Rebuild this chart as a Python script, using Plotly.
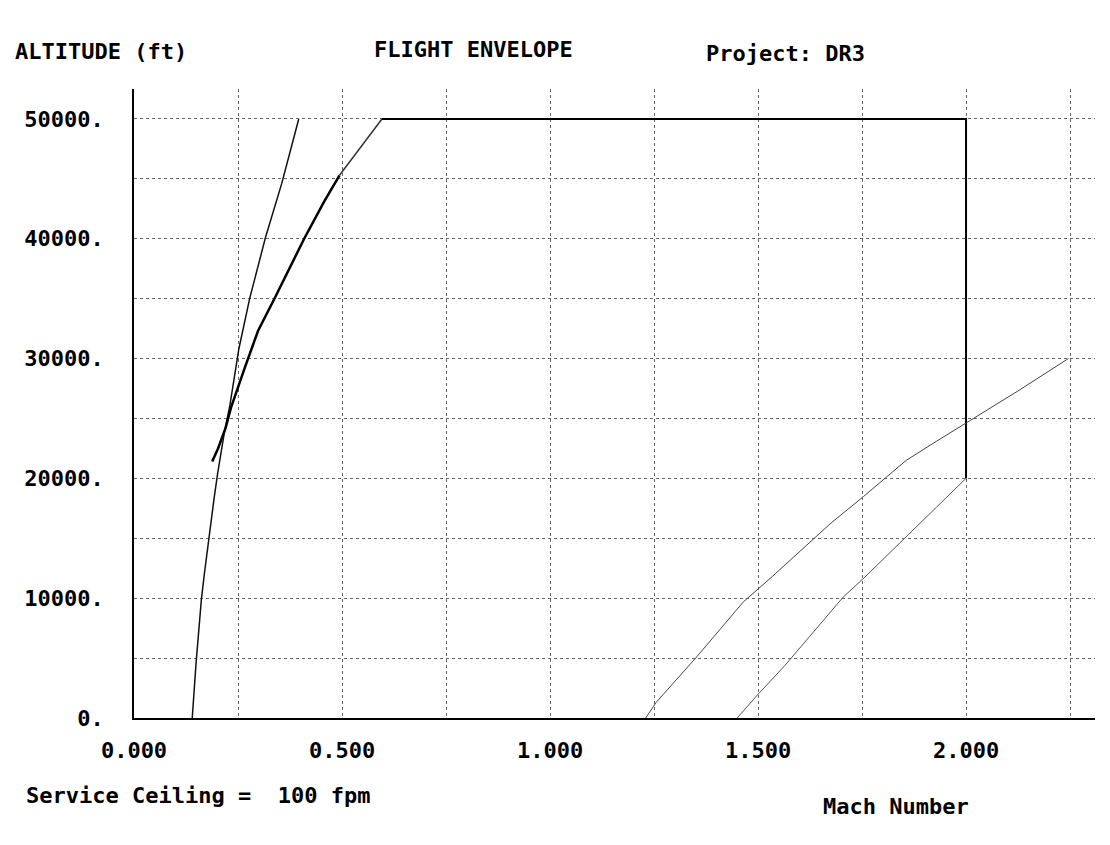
import plotly.graph_objects as go

# ---- data (Mach number, altitude ft) ----
low_speed_mach = [0.140, 0.144, 0.149, 0.155, 0.162, 0.169, 0.176, 0.184, 0.192, 0.201,
                  0.209, 0.217, 0.230, 0.252, 0.278, 0.316, 0.355, 0.396]
low_speed_alt = [0, 2200, 4500, 7000, 9900, 12000, 14000, 16000, 18200, 20400,
                 22100, 23800, 26000, 30800, 35000, 40100, 44600, 50000]

envelope_mach = [0.188, 0.202, 0.220, 0.234, 0.266, 0.298, 0.339, 0.409, 0.457, 0.494]
envelope_alt = [21400, 22500, 24200, 26000, 29200, 32300, 35100, 40000, 43100, 45300]

envelope_top_mach = [0.494, 0.596]
envelope_top_alt = [45300, 50000]

ceiling_mach = [0.596, 2.0, 2.0]
ceiling_alt = [50000, 50000, 20000]

q_low_mach = [1.45, 1.498, 1.565, 1.627, 1.705, 1.755, 1.848, 1.929, 2.0]
q_low_alt = [0, 1900, 4400, 6900, 10100, 11700, 14900, 17600, 20000]

q_high_mach = [1.23, 1.255, 1.35, 1.404, 1.465, 1.534, 1.604, 1.673, 1.754, 1.856,
               1.929, 2.0, 2.125, 2.246]
q_high_alt = [0, 1300, 5000, 7200, 9700, 11800, 14000, 16200, 18500, 21500,
              23100, 24600, 27300, 30000]

x_ticks = [0.0, 0.5, 1.0, 1.5, 2.0]
x_tick_text = ["0.000", "0.500", "1.000", "1.500", "2.000"]
y_ticks = [0, 10000, 20000, 30000, 40000, 50000]
y_tick_text = ["0.", "10000.", "20000.", "30000.", "40000.", "50000."]

FONT = "DejaVu Sans Mono"

fig = go.Figure()
fig.add_trace(go.Scatter(x=low_speed_mach, y=low_speed_alt, mode="lines",
                         line=dict(color="#111111", width=1.5)))
fig.add_trace(go.Scatter(x=envelope_mach, y=envelope_alt, mode="lines",
                         line=dict(color="#000000", width=2.5)))
fig.add_trace(go.Scatter(x=envelope_top_mach, y=envelope_top_alt, mode="lines",
                         line=dict(color="#333333", width=1.5)))
fig.add_trace(go.Scatter(x=ceiling_mach, y=ceiling_alt, mode="lines",
                         line=dict(color="#000000", width=2)))
fig.add_trace(go.Scatter(x=q_low_mach, y=q_low_alt, mode="lines",
                         line=dict(color="#555555", width=1)))
fig.add_trace(go.Scatter(x=q_high_mach, y=q_high_alt, mode="lines",
                         line=dict(color="#444444", width=1)))

grid = dict(showgrid=True, gridcolor="#666666", gridwidth=1, griddash="dot")
tfont = dict(family=FONT, size=22, color="black", weight="bold")

fig.update_xaxes(range=[0, 2.31], tickmode="array", tickvals=x_ticks, ticktext=x_tick_text,
                 showline=True, linecolor="black", linewidth=1.5, zeroline=False,
                 ticks="", ticklabelstandoff=12, automargin=False,
                 minor=dict(dtick=0.25, tick0=0, showgrid=True, gridcolor="#666666",
                            griddash="dot", gridwidth=1),
                 tickfont=tfont, **grid)
fig.update_yaxes(range=[0, 52500], tickmode="array", tickvals=y_ticks, ticktext=y_tick_text,
                 showline=True, linecolor="black", linewidth=1.5, zeroline=False,
                 ticks="", ticklabelstandoff=24, automargin=False,
                 minor=dict(dtick=5000, tick0=0, showgrid=True, gridcolor="#666666",
                            griddash="dot", gridwidth=1),
                 tickfont=tfont, **grid)

# page body has an 8px margin; positions below are figure coordinates
OFF = 8
FW, FH = 1100, 830
L, R, T, B = 134 - OFF, 1095 - OFF, 89 - OFF, 718 - OFF
W, H = R - L, B - T


def px(x, y):
    return (x - OFF - L) / W, (B - (y - OFF)) / H


annots = [
    ("ALTITUDE (ft)", 101, 52),
    ("FLIGHT ENVELOPE", 473, 50),
    ("Project: DR3", 785, 54),
    ("Service Ceiling =  100 fpm", 198, 795),
    ("Mach Number", 896, 806),
]
for text, ax_, ay_ in annots:
    xp, yp = px(ax_, ay_)
    fig.add_annotation(text=text, x=xp, y=yp, xref="paper", yref="paper",
                       showarrow=False, xanchor="center", yanchor="middle",
                       font=tfont)

fig.update_layout(
    width=FW, height=FH,
    margin=dict(l=L, r=FW - R, t=T, b=FH - B, autoexpand=False),
    paper_bgcolor="white", plot_bgcolor="white",
    showlegend=False,
    font=dict(family=FONT, color="black"),
)

fig.write_html("out.html")
